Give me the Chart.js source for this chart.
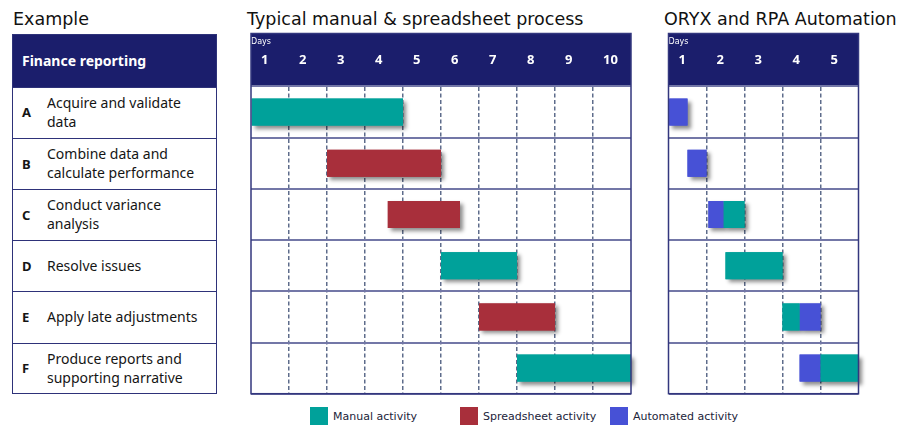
<!DOCTYPE html>
<html>
<head>
<meta charset="utf-8">
<script src="https://cdn.jsdelivr.net/npm/chart.js@4.4.1/dist/chart.umd.min.js"></script>
<style>
  html, body { margin:0; padding:0; background:#fff; }
  body { width:911px; height:433px; position:relative; overflow:hidden; font-family:"Noto Sans", sans-serif; }
  .title { position:absolute; font-family:"DejaVu Sans", sans-serif; font-size:17.5px; line-height:20px; color:#111; white-space:nowrap; }
  .cell { position:absolute; box-sizing:border-box; display:flex; align-items:center; }
  .hdr { background:#1B1E6C; color:#fff; font-weight:bold; font-size:14px; padding-left:9px; }
  .row { color:#151515; font-size:14px; line-height:18.5px; border-top:1.5px solid #2E3279; }
  .row .let { position:absolute; left:9px; font-weight:bold; font-size:13px; }
  .row .txt { position:absolute; left:34px; white-space:pre-line; }
  canvas { position:absolute; }
  #legend { position:absolute; top:407px; left:0; width:911px; height:20px; font-family:"DejaVu Sans", sans-serif; font-size:11px; color:#22243a; }
  .li { position:absolute; top:0; display:flex; align-items:center; height:18px; }
  .sw { width:18px; height:18px; margin-right:5px; }
</style>
</head>
<body>
<div class="title" style="left:13px;top:9px;">Example</div>
<div class="title" style="left:247px;top:9px;">Typical manual &amp; spreadsheet process</div>
<div class="title" style="left:664px;top:9px;">ORYX and RPA Automation</div>
<div id="table"></div>
<canvas id="typical" width="400" height="400" style="left:240px;top:0px;"></canvas>
<canvas id="oryx" width="255" height="400" style="left:656px;top:0px;"></canvas>
<div id="legend"></div>
<script>
// ---- data ----
const rowLetters = ['A', 'B', 'C', 'D', 'E', 'F'];
const taskNames = [
  'Acquire and validate\ndata',
  'Combine data and\ncalculate performance',
  'Conduct variance\nanalysis',
  'Resolve issues',
  'Apply late adjustments',
  'Produce reports and\nsupporting narrative'
];
const tableHeader = 'Finance reporting';
const axisTitle = 'Days';
const typicalDayLabels = ['1', '2', '3', '4', '5', '6', '7', '8', '9', '10'];
const oryxDayLabels = ['1', '2', '3', '4', '5'];
const seriesNames = ['Manual activity', 'Spreadsheet activity', 'Automated activity'];
const seriesColors = ['#00A19A', '#A82F3B', '#4751D6'];
// [start day, end day] per task row (null = none)
const typicalManual      = [[0, 4], null, null, [5, 7], null, [7, 10]];
const typicalSpreadsheet = [null, [2, 5], [3.6, 5.5], null, [6, 8], null];
const typicalAutomated   = [null, null, null, null, null, null];
const oryxManual         = [null, null, [1.45, 2], [1.5, 3], [3, 3.45], [4, 5]];
const oryxSpreadsheet    = [null, null, null, null, null, null];
const oryxAutomated      = [[0, 0.5], [0.5, 1], [1.05, 1.45], null, [3.45, 4], [3.45, 4]];

// ---- layout constants ----
const NAVY = '#1B1E6C';
const HEADER_TOP = 33.5;
const AREA_TOP = 86.5;
const AREA_BOTTOM = 393.7;
const ROW_H = (AREA_BOTTOM - AREA_TOP) / rowLetters.length;

// ---- table (HTML) ----
(function buildTable() {
  const t = document.getElementById('table');
  const L = 13, W = 203;
  let html = '<div class="cell hdr" style="left:' + L + 'px;top:' + HEADER_TOP + 'px;width:' + W + 'px;height:' + (AREA_TOP - HEADER_TOP) + 'px;">' + tableHeader + '</div>';
  rowLetters.forEach((letter, i) => {
    const top = AREA_TOP + i * ROW_H;
    html += '<div class="cell row" style="left:' + L + 'px;top:' + top + 'px;width:' + W + 'px;height:' + ROW_H + 'px;">' +
      '<span class="let">' + letter + '</span><span class="txt">' + taskNames[i] + '</span></div>';
  });
  html += '<div style="position:absolute;box-sizing:border-box;left:' + (L - 0.75) + 'px;top:' + HEADER_TOP + 'px;width:' + (W + 1.5) + 'px;height:' + (AREA_BOTTOM - HEADER_TOP + 0.75) + 'px;border:1.5px solid #2E3279;"></div>';
  t.innerHTML = html;
})();

// ---- legend (HTML) ----
(function buildLegend() {
  const lg = document.getElementById('legend');
  const lefts = [310, 460, 610];
  lg.innerHTML = seriesNames.map((n, i) =>
    '<div class="li" style="left:' + lefts[i] + 'px;"><div class="sw" style="background:' + seriesColors[i] + '"></div>' + n + '</div>'
  ).join('');
})();

// ---- plugins ----
const shadowPlugin = {
  id: 'barShadow',
  beforeDatasetsDraw(chart) {
    const ctx = chart.ctx;
    ctx.save();
    ctx.shadowColor = 'rgba(0,0,0,0.45)';
    ctx.shadowBlur = 4;
    ctx.shadowOffsetX = 3;
    ctx.shadowOffsetY = 3;
    chart.getSortedVisibleDatasetMetas().forEach(meta => {
      const ds = chart.data.datasets[meta.index];
      meta.data.forEach((el, i) => {
        if (ds.data[i] == null) return;
        const p = el.getProps(['x', 'y', 'base', 'height'], true);
        const l = Math.min(p.x, p.base), w = Math.abs(p.x - p.base);
        ctx.fillStyle = ds.backgroundColor;
        ctx.fillRect(l, p.y - p.height / 2, w, p.height);
      });
    });
    ctx.restore();
  }
};
const panelPlugin = {
  id: 'panel',
  beforeDraw(chart) {
    const { ctx, chartArea: a, scales } = chart;
    ctx.save();
    ctx.fillStyle = NAVY;
    ctx.fillRect(a.left, scales.x.top, a.right - a.left, a.top - scales.x.top);
    ctx.restore();
  },
  afterDatasetsDraw(chart) {
    const { ctx, chartArea: a, scales } = chart;
    ctx.save();
    ctx.strokeStyle = '#33377E';
    ctx.lineWidth = 1.5;
    ctx.strokeRect(a.left, scales.x.top, a.right - a.left, a.bottom - scales.x.top);
    ctx.restore();
  }
};

function makeChart(id, dayLabels, seriesData, padLeft, padRight, canvasH) {
  const n = dayLabels.length;
  return new Chart(document.getElementById(id), {
    type: 'bar',
    data: {
      labels: rowLetters,
      datasets: seriesData.map((d, i) => ({
        label: seriesNames[i],
        data: d,
        backgroundColor: seriesColors[i],
        borderWidth: 0,
        borderSkipped: false,
        grouped: false,
        categoryPercentage: 1,
        barPercentage: 0.527
      }))
    },
    options: {
      indexAxis: 'y',
      responsive: false,
      animation: false,
      devicePixelRatio: 1,
      layout: { padding: { left: padLeft, right: padRight, top: HEADER_TOP, bottom: canvasH - AREA_BOTTOM } },
      plugins: { legend: { display: false }, tooltip: { enabled: false }, title: { display: false } },
      scales: {
        x: {
          type: 'linear',
          position: 'top',
          min: 0,
          max: n,
          ticks: {
            stepSize: 1,
            align: 'start',
            labelOffset: 10,
            padding: 18.5,
            color: '#ffffff',
            font: { family: 'Noto Sans', size: 13, weight: 'bold' },
            callback: (v) => dayLabels[v] ?? ''
          },
          grid: {
            drawTicks: false,
            lineWidth: 1.5,
            color: (c) => (c.tick && (c.tick.value === 0 || c.tick.value === n)) ? 'rgba(0,0,0,0)' : '#5E6C8B'
          },
          border: { display: false, dash: [4, 2.5] },
          title: {
            display: true,
            text: axisTitle,
            align: 'start',
            color: '#ffffff',
            font: { family: 'DejaVu Sans', size: 8 },
            padding: { top: 3.5, bottom: 0 }
          },
          afterFit: (s) => { s.height = AREA_TOP - HEADER_TOP; s.paddingLeft = 0; s.paddingRight = 0; }
        },
        y: {
          type: 'category',
          offset: true,
          ticks: { display: false },
          grid: { drawTicks: false, offset: true, lineWidth: 2, color: '#7377A7' },
          border: { display: false },
          afterFit: (s) => { s.width = 0; s.paddingTop = 0; s.paddingBottom = 0; }
        }
      }
    },
    plugins: [panelPlugin, shadowPlugin]
  });
}

makeChart('typical', typicalDayLabels, [typicalManual, typicalSpreadsheet, typicalAutomated], 11, 9, 400);
makeChart('oryx', oryxDayLabels, [oryxManual, oryxSpreadsheet, oryxAutomated], 12.5, 52.5, 400);
</script>
</body>
</html>
